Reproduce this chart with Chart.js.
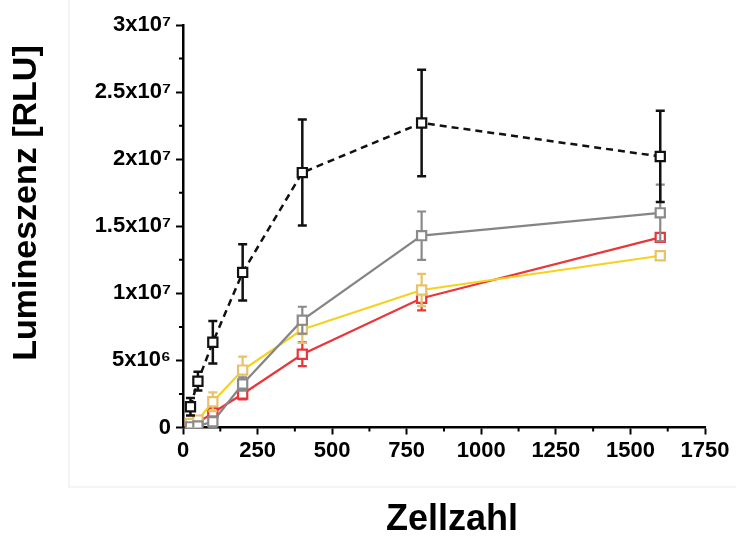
<!DOCTYPE html>
<html>
<head>
<meta charset="utf-8">
<title>Lumineszenz vs. Zellzahl</title>
<script src="https://cdn.jsdelivr.net/npm/chart.js@4.4.1/dist/chart.umd.min.js"></script>
<style>
  html, body { margin: 0; padding: 0; background: #ffffff; }
  #wrap { width: 736px; height: 541px; position: relative; }
  canvas { display: block; }
</style>
</head>
<body>
<div id="wrap"><canvas id="chart" width="736" height="541"></canvas></div>
<script>
// Zellzahl (cells per well)
const cellCounts = [25, 50, 100, 200, 400, 800, 1600];

// Mean luminescence [RLU] per series and their standard deviations
const blackMeans  = [1.55e6, 3.45e6, 6.35e6, 1.156e7, 1.90e7, 2.27e7, 2.02e7];
const blackErrors = [0.65e6, 0.7e6, 1.58e6, 2.1e6, 3.95e6, 3.97e6, 3.4e6];

const grayMeans   = [0.05e6, 0.12e6, 0.43e6, 3.24e6, 8.0e6, 1.43e7, 1.60e7];
const grayErrors  = [0.1e6, 0.15e6, 0.4e6, 0.5e6, 1.0e6, 1.8e6, 2.1e6];

const yellowMeans  = [0.3e6, 0.55e6, 1.92e6, 4.28e6, 7.3e6, 1.025e7, 1.28e7];
const yellowErrors = [0.25e6, 0.3e6, 0.7e6, 1.0e6, 1.0e6, 1.2e6, 0.15e6];

const redMeans   = [0.2e6, 0.35e6, 1.1e6, 2.5e6, 5.46e6, 9.63e6, 1.417e7];
const redErrors  = [0.15e6, 0.2e6, 0.4e6, 0.4e6, 0.88e6, 0.9e6, 0.2e6];

// Axis ticks
const xTicks = [0, 250, 500, 750, 1000, 1250, 1500, 1750];
const yTicks = [0, 5e6, 1e7, 1.5e7, 2e7, 2.5e7, 3e7];
const yTickLabels = ['0', '5x10\u2076', '1x10\u2077', '1.5x10\u2077', '2x10\u2077', '2.5x10\u2077', '3x10\u2077'];

const FONT = '"Liberation Sans", Arial, Helvetica, sans-serif';

function points(means) {
  return cellCounts.map((x, i) => ({ x: x, y: means[i] }));
}

function series(means, errors, lineColor, markColor, dash, width, errWidth) {
  return {
    data: points(means),
    errors: errors,
    errColor: markColor,
    errWidth: errWidth,
    borderColor: lineColor,
    borderWidth: width,
    borderDash: dash,
    pointStyle: 'rect',
    pointRadius: 6.5,
    pointHoverRadius: 6.5,
    pointBorderWidth: 2.2,
    pointBorderColor: markColor,
    pointBackgroundColor: '#ffffff',
    tension: 0,
    fill: false
  };
}

// Vertical error bars with caps, drawn through the chart's y scale
const errorBars = {
  id: 'errorBars',
  beforeDatasetDraw(chart, args) {
    const ds = chart.data.datasets[args.index];
    if (!ds.errors) return;
    const meta = args.meta;
    const ys = chart.scales.y;
    const ctx = chart.ctx;
    ctx.save();
    ctx.strokeStyle = ds.errColor;
    ctx.lineWidth = ds.errWidth;
    ctx.setLineDash([]);
    meta.data.forEach((pt, i) => {
      const v = ds.data[i].y;
      const e = ds.errors[i];
      const top = ys.getPixelForValue(v + e);
      const bot = ys.getPixelForValue(Math.max(v - e, 0));
      const cap = 4.5;
      ctx.beginPath();
      ctx.moveTo(pt.x, top); ctx.lineTo(pt.x, bot);
      ctx.moveTo(pt.x - cap, top); ctx.lineTo(pt.x + cap, top);
      ctx.moveTo(pt.x - cap, bot); ctx.lineTo(pt.x + cap, bot);
      ctx.stroke();
    });
    ctx.restore();
  }
};

// Faint frame behind the plot, minor ticks and axis titles
const decorations = {
  id: 'decorations',
  beforeDraw(chart) {
    const ctx = chart.ctx;
    ctx.save();
    ctx.strokeStyle = '#f1f1f1';
    ctx.lineWidth = 1.5;
    ctx.strokeRect(69, -2, 720, 489);
    ctx.restore();
  },
  afterDraw(chart) {
    const ctx = chart.ctx;
    const xs = chart.scales.x, ys = chart.scales.y;
    const area = chart.chartArea;
    ctx.save();
    ctx.strokeStyle = '#000000';
    ctx.lineWidth = 2;
    ctx.beginPath();
    for (let i = 0; i < xTicks.length - 1; i++) {
      const px = xs.getPixelForValue((xTicks[i] + xTicks[i + 1]) / 2);
      ctx.moveTo(px, area.bottom); ctx.lineTo(px, area.bottom + 4);
    }
    for (let i = 0; i < yTicks.length - 1; i++) {
      const py = ys.getPixelForValue((yTicks[i] + yTicks[i + 1]) / 2);
      ctx.moveTo(area.left, py); ctx.lineTo(area.left - 4, py);
    }
    ctx.stroke();

    ctx.fillStyle = '#000000';
    ctx.textAlign = 'center';
    ctx.textBaseline = 'middle';
    ctx.font = 'bold 36px ' + FONT;
    ctx.fillText('Zellzahl', 452, 520);
    ctx.translate(27, 203);
    ctx.rotate(-Math.PI / 2);
    ctx.font = 'bold 34px ' + FONT;
    ctx.fillText('Lumineszenz [RLU]', 0, 0);
    ctx.restore();
  }
};

new Chart(document.getElementById('chart'), {
  type: 'line',
  data: {
    datasets: [
      series(blackMeans, blackErrors, '#111111', '#111111', [7, 5], 2.5, 2.5),
      series(grayMeans, grayErrors, '#858585', '#8a8a8a', [], 2.2, 2.2),
      series(yellowMeans, yellowErrors, '#f5d21c', '#e8c26a', [], 2.2, 2.2),
      series(redMeans, redErrors, '#e8363a', '#e8363a', [], 2.2, 2.2)
    ]
  },
  options: {
    responsive: false,
    animation: false,
    events: [],
    layout: { padding: { top: 25, right: 31, bottom: 0, left: 0 } },
    plugins: {
      legend: { display: false },
      tooltip: { enabled: false },
      title: { display: false }
    },
    scales: {
      x: {
        type: 'linear',
        min: 0,
        max: 1750,
        afterBuildTicks(scale) { scale.ticks = xTicks.map(v => ({ value: v })); },
        afterFit(scale) { scale.height = 541 - 427.5; },
        grid: { display: true, drawOnChartArea: false, drawTicks: true, tickLength: 7, tickWidth: 2, tickColor: '#000000' },
        border: { display: true, color: '#000000', width: 2.5 },
        ticks: {
          color: '#000000',
          padding: 3,
          maxRotation: 0,
          autoSkip: false,
          font: { family: FONT, size: 22, weight: 'bold' },
          callback: v => String(v)
        }
      },
      y: {
        type: 'linear',
        min: 0,
        max: 3e7,
        afterBuildTicks(scale) { scale.ticks = yTicks.map(v => ({ value: v })); },
        afterFit(scale) { scale.width = 183; },
        grid: { display: true, drawOnChartArea: false, drawTicks: true, tickLength: 7, tickWidth: 2, tickColor: '#000000' },
        border: { display: true, color: '#000000', width: 2.5 },
        ticks: {
          color: '#000000',
          padding: 5,
          autoSkip: false,
          font: { family: FONT, size: 22, weight: 'bold' },
          callback: v => yTickLabels[yTicks.indexOf(v)]
        }
      }
    }
  },
  plugins: [errorBars, decorations]
});
</script>
</body>
</html>
